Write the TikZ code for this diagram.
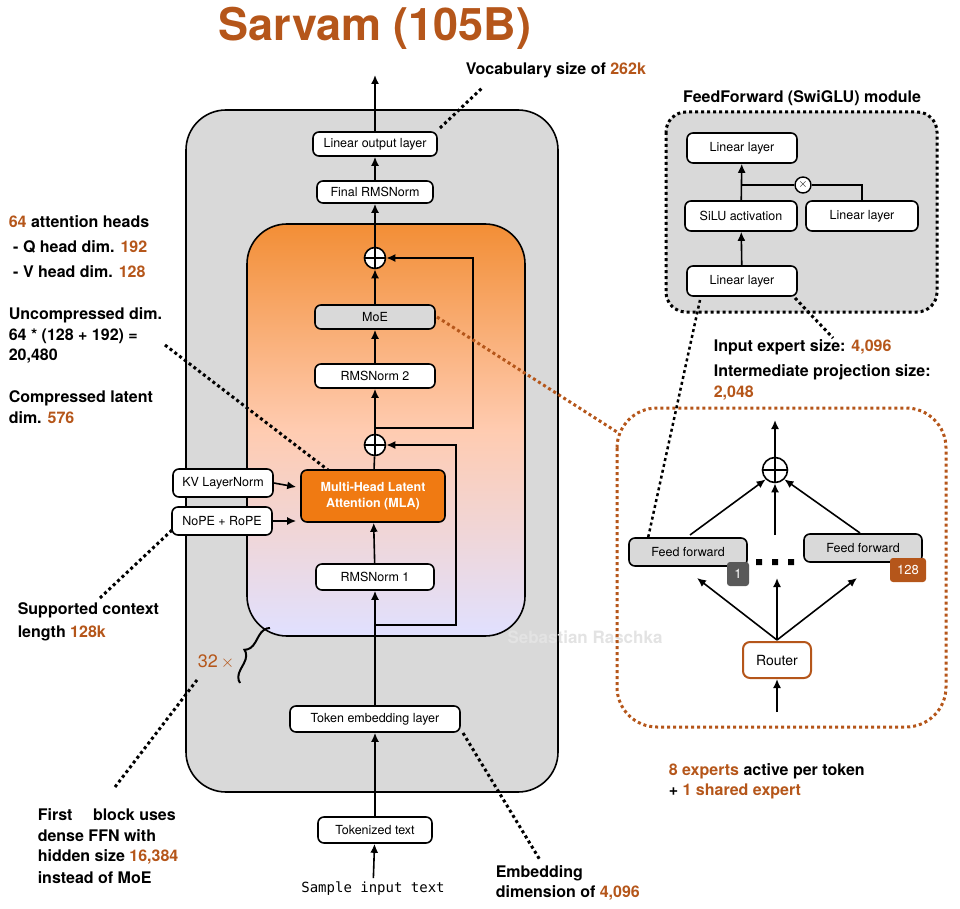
\documentclass[tikz,border=0pt]{standalone}
\usepackage{fontspec}
\setmainfont{TeX Gyre Heros}
\setmonofont{DejaVu Sans Mono}
\usetikzlibrary{arrows.meta,decorations.pathreplacing}
\definecolor{brn}{HTML}{B5561A}
\definecolor{org}{HTML}{F07A12}
\definecolor{gbg}{HTML}{D9D9D9}
\begin{document}
\begin{tikzpicture}[x=1pt,y=-1pt,line width=1.6pt,
  box/.style={draw,line width=1.6pt,rounded corners=6pt,fill=white,font=\fontsize{12.5}{14}\selectfont,inner sep=0pt},
  ar/.style={-{Latex[length=9pt,width=8pt]},line width=1.6pt},
  ln/.style={line width=1.6pt},
  dot/.style={line width=3pt,dash pattern=on 3pt off 3pt},
  ann/.style={font=\fontsize{16}{19}\selectfont\bfseries,anchor=west,inner sep=0pt},
  plus/.style={draw,line width=1.6pt,circle,fill=white,minimum size=21pt,inner sep=0pt}]
\useasboundingbox (0,0) rectangle (960,909);
\node[font=\fontsize{45}{50}\selectfont\bfseries,text=brn] (title) at (375,28) {Sarvam (105B)};
% outer
\draw[fill=gbg,rounded corners=40pt] (186,110) rectangle (558,792);
\draw[top color=org!85,bottom color=blue!12,middle color=orange!35!pink!60,rounded corners=40pt] (247,224) rectangle (525,636);
\node[box,minimum width=124pt,minimum height=24pt] (lin) at (375,144) {Linear output layer};
\node[box,minimum width=116pt,minimum height=22pt] (frms) at (375,192) {Final RMSNorm};
\node[plus] (p2) at (375,258) {};
\draw (p2.north)--(p2.south) (p2.west)--(p2.east);
\node[box,fill=gbg,minimum width=120pt,minimum height=24pt] (moe) at (375,317) {MoE};
\node[box,minimum width=120pt,minimum height=24pt] (rms2) at (375,376) {RMSNorm 2};
\node[plus] (p1) at (375,445) {};
\draw (p1.north)--(p1.south) (p1.west)--(p1.east);
\node[box,fill=org,text=white,font=\fontsize{12.5}{16}\selectfont\bfseries,align=center,minimum width=144pt,minimum height=52pt] (mla) at (373,496) {Multi-Head Latent\\Attention (MLA)};
\node[box,minimum width=118pt,minimum height=26pt] (rms1) at (375,577) {RMSNorm 1};
\node[box,minimum width=100pt,minimum height=28pt] (kv) at (223,483) {KV LayerNorm};
\node[box,minimum width=100pt,minimum height=28pt] (rope) at (222,521) {NoPE + RoPE};
\node[box,minimum width=170pt,minimum height=26pt] (emb) at (375,719) {Token embedding layer};
\node[box,minimum width=114pt,minimum height=26pt] (tok) at (375,830) {Tokenized text};
\node[font=\ttfamily\fontsize{14}{16}\selectfont] (sample) at (373,889) {Sample input text};
\coordinate (top) at (375,75);
\coordinate (b1) at (375,625); \coordinate (b1r) at (456,625);
\coordinate (b2) at (375,428); \coordinate (b2r) at (473,428);
\draw[ar] (sample) -- (tok);
\draw[ar] (tok) -- (emb);
\draw[ar] (emb) -- (rms1);
\draw[ar] (rms1) -- (mla);
\draw[ln] (mla) -- (p1);
\draw[ar] (p1) -- (rms2);
\draw[ar] (rms2) -- (moe);
\draw[ar] (moe) -- (p2);
\draw[ar] (p2) -- (frms);
\draw[ar] (frms) -- (lin);
\draw[ar] (lin) -- (top);
\draw[ar] (b1) -- (b1r) -- (b1r|-p1) -- (p1);
\draw[ar] (b2) -- (b2r) -- (b2r|-p2) -- (p2);
\draw[ar] (kv.east) -- ([xshift=-4pt,yshift=-4pt]mla.west|-kv.east);
\draw[ar] (rope.east) -- ([xshift=-4pt]mla.west|-rope.east);
\draw[line width=2pt,decorate,decoration={brace,amplitude=12pt}] (240,683) -- (270,628);
\node[font=\fontsize{18}{20}\selectfont,text=brn] (rep) at (216,662) {32\,$\times$};
\node[font=\fontsize{17}{19}\selectfont\bfseries,text=gray!22] (wm) at (585,637) {Sebastian Raschka};
% left annotations
\node[ann] (a1) at (8,222) {\textcolor{brn}{64} attention heads};
\node[ann] (a2) at (8,247) {\ - Q head dim. \textcolor{brn}{192}};
\node[ann] (a3) at (8,272) {\ - V head dim. \textcolor{brn}{128}};
\node[ann] (a4) at (8,315) {Uncompressed dim.};
\node[ann] (a5) at (8,336) {64 * (128 + 192) =};
\node[ann] (a6) at (8,356) {20,480};
\node[ann] (a7) at (8,398) {Compressed latent};
\node[ann] (a8) at (8,418) {dim. \textcolor{brn}{576}};
\node[ann] (a9) at (17,610) {Supported context};
\node[ann] (a10) at (17,633) {length \textcolor{brn}{128k}};
\node[ann] (a11) at (37,815) {First \quad block uses};
\node[ann] (a12) at (37,836) {dense FFN with};
\node[ann] (a13) at (37,857) {hidden size \textcolor{brn}{16,384}};
\node[ann] (a14) at (37,878) {instead of MoE};
\node[ann] (a15) at (495,873) {Embedding};
\node[ann] (a16) at (495,893) {dimension of \textcolor{brn}{4,096}};
\node[ann] (a17) at (465,70) {Vocabulary size of \textcolor{brn}{262k}};
\coordinate (d1a) at (165,345); \coordinate (d1b) at (328,470);
\coordinate (d2a) at (100,598); \coordinate (d2b) at (172,530);
\coordinate (d3a) at (115,787); \coordinate (d3b) at (197,680);
\coordinate (d4a) at (463,733); \coordinate (d4b) at (540,860);
\coordinate (d5a) at (440,128); \coordinate (d5b) at (482,88);
\draw[dot] (d1a) -- (d1b);
\draw[dot] (d2a) -- (d2b);
\draw[dot] (d3a) -- (d3b);
\draw[dot] (d4a) -- (d4b);
\draw[dot] (d5a) -- (d5b);
% FF module
\node[font=\fontsize{16}{19}\selectfont\bfseries] (fft) at (802,98) {FeedForward (SwiGLU) module};
\draw[dot,fill=gbg,rounded corners=20pt] (666,112) rectangle (937,312);
\node[box,minimum width=110pt,minimum height=30pt] (fl1) at (742,148) {Linear layer};
\node[box,minimum width=112pt,minimum height=30pt] (silu) at (741,216) {SiLU activation};
\node[box,minimum width=112pt,minimum height=30pt] (fl2) at (862,216) {Linear layer};
\node[box,minimum width=110pt,minimum height=30pt] (fl3) at (742,281) {Linear layer};
\node[draw,line width=1.4pt,circle,fill=white,minimum size=16pt,inner sep=0pt,font=\fontsize{12}{12}\selectfont] (mul) at (803,185) {$\times$};
\draw[ar] (fl3) -- (silu);
\draw[ar] (silu) -- (fl1);
\draw[ln] (fl2.north) -- (fl2.north|-mul) -- (mul) -- (mul-|silu);
\node[ann] (a18) at (713,347) {Input expert size: \textcolor{brn}{4,096}};
\node[ann] (a19) at (713,372) {Intermediate projection size:};
\node[ann] (a20) at (713,393) {\textcolor{brn}{2,048}};
\coordinate (d6a) at (795,298); \coordinate (d6b) at (833,338);
\draw[dot] (d6a) -- (d6b);
% expert box
\draw[dot,draw=brn,rounded corners=40pt] (617,408) rectangle (946,727);
\draw[dot,draw=brn] (437,317) -- (617,432);
\node[plus,minimum size=25pt] (ep) at (775,470) {};
\draw (ep.north)--(ep.south) (ep.west)--(ep.east);
\coordinate (eptop) at (775,420);
\draw[ar] (ep) -- (eptop);
\node[box,fill=gbg,minimum width=118pt,minimum height=28pt] (ff1) at (688,552) {Feed forward};
\node[box,fill=gbg,minimum width=118pt,minimum height=28pt] (ff2) at (863,548) {Feed forward};
\node[draw=none,fill=gray!70!black,text=white,rounded corners=3pt,minimum width=22pt,minimum height=24pt,inner sep=0pt,font=\fontsize{13}{15}\selectfont] (bd1) at (738,574) {1};
\node[draw=none,fill=brn,text=white,rounded corners=3pt,minimum width=36pt,minimum height=24pt,inner sep=0pt,font=\fontsize{13}{15}\selectfont] (bd2) at (908,570) {128};
\node[font=\fontsize{22}{22}\selectfont\bfseries] (dots) at (775,562) {};
\fill (756,559) rectangle (762,565) (772,559) rectangle (778,565) (788,559) rectangle (794,565);
\coordinate (mid) at (775,535);
\draw[ar] (690,535) -- (ep.south west);
\draw[ar] (mid) -- (ep.south);
\draw[ar] (860,533) -- (ep.south east);
\node[draw=brn,line width=2pt,rounded corners=7pt,fill=white,minimum width=68pt,minimum height=36pt,font=\fontsize{14}{16}\selectfont] (router) at (777,660) {Router};
\coordinate (rt) at (777,640);
\coordinate (rin) at (777,712);
\draw[ar] (rin) -- (router);
\draw[ar] (rt) -- (697,578);
\draw[ar] (rt) -- (777,578);
\draw[ar] (rt) -- (857,578);
\draw[dot,line width=2.5pt] (ff1.north west) ++(20,0) -- (700,300);
\node[ann] (a21) at (668,771) {\textcolor{brn}{8 experts} active per token};
\node[ann] (a22) at (668,791) {+ \textcolor{brn}{1 shared expert}};
\end{tikzpicture}
\end{document}
